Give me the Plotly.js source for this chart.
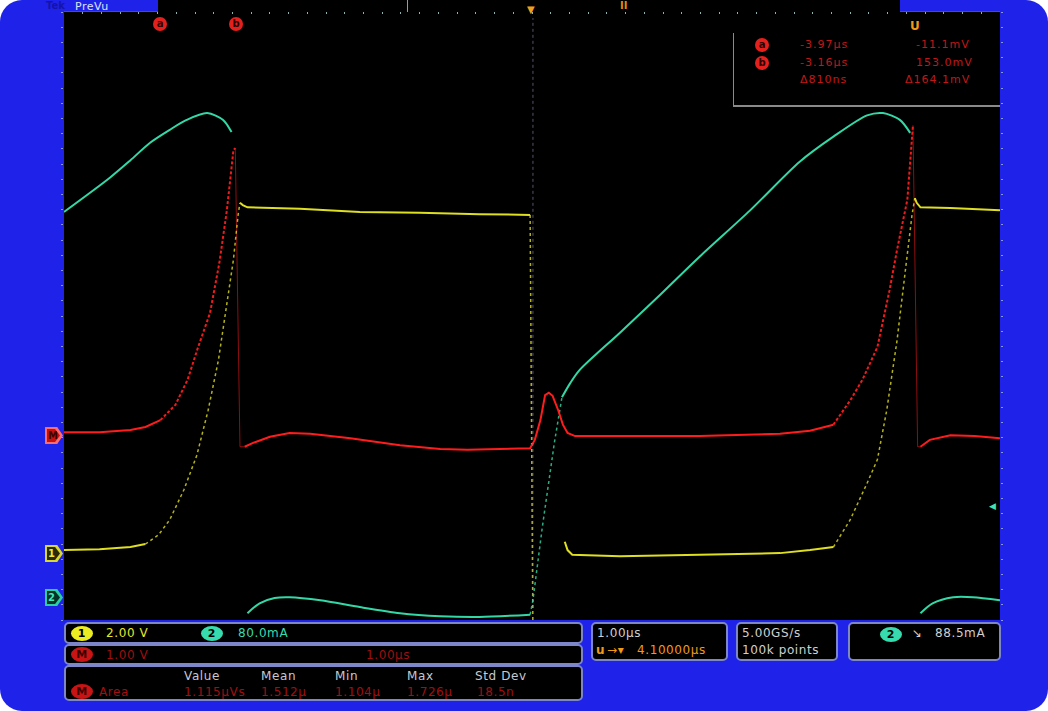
<!DOCTYPE html>
<html>
<head>
<meta charset="utf-8">
<script src="https://cdn.plot.ly/plotly-3.0.1.min.js"></script>
<style>
  html,body{margin:0;padding:0;background:#ffffff;}
  #wrap{position:relative;width:1048px;height:711px;background:#1f22e8;border-radius:22px;overflow:hidden;font-family:"DejaVu Sans",sans-serif;}
  #plot{position:absolute;left:0;top:0;width:1048px;height:711px;}
  .ov{position:absolute;z-index:10;white-space:nowrap;line-height:1;}
  .panel{position:absolute;z-index:10;background:#000;border:2px solid #7d86c8;border-radius:5px;box-sizing:border-box;}
  .badge{display:inline-block;border-radius:50%;text-align:center;font-weight:bold;color:#000;}
  .t{position:absolute;white-space:nowrap;line-height:1;font-size:12px;letter-spacing:0.6px;}
  .gnd{position:absolute;z-index:10;width:18px;height:17px;clip-path:polygon(0 0,68% 0,100% 50%,68% 100%,0 100%);}
  .gnd div{position:absolute;left:2px;top:2px;width:13px;height:13px;clip-path:polygon(0 0,62% 0,100% 50%,62% 100%,0 100%);font-size:10px;font-weight:bold;line-height:13px;text-indent:1px;}
  .cur{position:absolute;z-index:10;width:14px;height:14px;border-radius:50%;background:#e3201c;color:#2a0000;font-size:10px;font-weight:bold;text-align:center;line-height:13px;}
</style>
</head>
<body>
<div id="wrap">
  <div id="plot"></div>

  <!-- top status bar -->
  <div class="ov" style="left:46px;top:1px;font-size:10px;font-weight:bold;color:#1414a8;">Tek</div>
  <div class="ov" style="left:75px;top:1px;font-size:11px;color:#dfe3ff;letter-spacing:0.5px;">PreVu</div>
  <div class="ov" style="left:158px;top:0px;width:742px;height:12px;background:#000;z-index:5;"></div>
  <div class="ov" style="left:407px;top:0px;width:1px;height:12px;background:#9a9a9a;"></div>
  <div class="ov" style="left:527px;top:5px;font-size:10px;color:#f0a020;">▼</div>
  <div class="ov" style="left:620px;top:1px;font-size:10px;font-weight:bold;color:#e08a10;">II</div>

  <!-- cursor markers -->
  <div class="cur" style="left:153px;top:17px;">a</div>
  <div class="cur" style="left:229px;top:17px;">b</div>

  <!-- cursor readout -->
  <div class="ov" style="left:910px;top:20px;font-size:12px;font-weight:bold;color:#f09a18;">U</div>
  <div class="ov" style="left:733px;top:33px;width:1px;height:72px;background:#8a8a8a;"></div>
  <div class="ov" style="left:733px;top:105px;width:267px;height:2px;background:#8a8a8a;"></div>
  <div class="cur" style="left:755px;top:38px;">a</div>
  <div class="cur" style="left:755px;top:56px;">b</div>
  <div class="ov" style="left:800px;top:39px;font-size:11px;color:#c01818;letter-spacing:1px;">-3.97µs</div>
  <div class="ov" style="left:916px;top:39px;font-size:11px;color:#c01818;letter-spacing:1px;">-11.1mV</div>
  <div class="ov" style="left:800px;top:57px;font-size:11px;color:#c01818;letter-spacing:1px;">-3.16µs</div>
  <div class="ov" style="left:916px;top:57px;font-size:11px;color:#c01818;letter-spacing:1px;">153.0mV</div>
  <div class="ov" style="left:800px;top:74px;font-size:11px;color:#c01818;letter-spacing:1px;">Δ810ns</div>
  <div class="ov" style="left:905px;top:74px;font-size:11px;color:#c01818;letter-spacing:1px;">Δ164.1mV</div>

  <!-- ground markers -->
  <div class="gnd" style="left:45px;top:427px;background:#ff6a6a;"><div style="background:#c81010;color:#3a0000;">M</div></div>
  <div class="gnd" style="left:45px;top:545px;background:#d8d830;"><div style="background:#2a2a08;color:#e8e840;">1</div></div>
  <div class="gnd" style="left:45px;top:589px;background:#2ad0a0;"><div style="background:#06302a;color:#40e8b8;">2</div></div>
  <div class="ov" style="left:989px;top:502px;font-size:9px;color:#40e4b4;">◀</div>

  <!-- bottom panels -->
  <div class="panel" style="left:64px;top:622px;width:519px;height:22px;">
    <span class="badge t" style="left:5px;top:2px;width:22px;height:15px;line-height:15px;background:#ecec22;font-size:11px;">1</span>
    <span class="t" style="left:40px;top:3px;color:#e6e628;">2.00 V</span>
    <span class="badge t" style="left:135px;top:2px;width:22px;height:15px;line-height:15px;background:#36dcae;font-size:11px;">2</span>
    <span class="t" style="left:172px;top:3px;color:#36dcae;">80.0mA</span>
  </div>
  <div class="panel" style="left:64px;top:644px;width:519px;height:21px;">
    <span class="badge t" style="left:5px;top:1px;width:22px;height:15px;line-height:15px;background:#c81414;color:#3a0000;font-size:11px;">M</span>
    <span class="t" style="left:40px;top:3px;color:#9c1010;">1.00 V</span>
    <span class="t" style="left:300px;top:3px;color:#9c1010;">1.00µs</span>
  </div>
  <div class="panel" style="left:64px;top:665px;width:519px;height:36px;">
    <span class="t" style="left:118px;top:3px;color:#c8c8d0;">Value</span>
    <span class="t" style="left:195px;top:3px;color:#c8c8d0;">Mean</span>
    <span class="t" style="left:269px;top:3px;color:#c8c8d0;">Min</span>
    <span class="t" style="left:341px;top:3px;color:#c8c8d0;">Max</span>
    <span class="t" style="left:409px;top:3px;color:#c8c8d0;">Std Dev</span>
    <span class="badge t" style="left:5px;top:17px;width:22px;height:15px;line-height:15px;background:#c81414;color:#3a0000;font-size:11px;">M</span>
    <span class="t" style="left:33px;top:19px;color:#a01010;">Area</span>
    <span class="t" style="left:118px;top:19px;color:#a01010;">1.115µVs</span>
    <span class="t" style="left:195px;top:19px;color:#a01010;">1.512µ</span>
    <span class="t" style="left:269px;top:19px;color:#a01010;">1.104µ</span>
    <span class="t" style="left:341px;top:19px;color:#a01010;">1.726µ</span>
    <span class="t" style="left:411px;top:19px;color:#a01010;">18.5n</span>
  </div>
  <div class="panel" style="left:591px;top:622px;width:137px;height:39px;">
    <span class="t" style="left:4px;top:3px;color:#d0d0d0;">1.00µs</span>
    <span class="t" style="left:3px;top:20px;color:#f09a18;font-weight:bold;">u</span>
    <span class="t" style="left:14px;top:20px;color:#f09a18;">→▾</span>
    <span class="t" style="left:44px;top:20px;color:#f09a18;">4.10000µs</span>
  </div>
  <div class="panel" style="left:736px;top:622px;width:102px;height:39px;">
    <span class="t" style="left:4px;top:3px;color:#d0d0d0;">5.00GS/s</span>
    <span class="t" style="left:4px;top:20px;color:#d0d0d0;">100k points</span>
  </div>
  <div class="panel" style="left:848px;top:622px;width:153px;height:39px;">
    <span class="badge t" style="left:30px;top:3px;width:22px;height:15px;line-height:15px;background:#36dcae;font-size:11px;">2</span>
    <span class="t" style="left:62px;top:3px;color:#d0d0d0;">↘</span>
    <span class="t" style="left:85px;top:3px;color:#d0d0d0;">88.5mA</span>
  </div>
</div>

<script>
// Time in µs (1.00 µs/div), values in screen divisions
const ch1Time = [-5.00,-4.62,-4.29,-4.13,null,-3.12,-3.09,-3.04,-2.48,-1.84,-1.20,-0.56,-0.02,null,0.35,0.38,0.43,0.94,1.79,2.65,2.97,3.22,null,4.09,4.11,4.15,4.47,5.00];
const ch1Val  = [-3.08,-3.07,-3.04,-3.00,null,1.49,1.46,1.43,1.41,1.37,1.36,1.34,1.33,null,-2.97,-3.08,-3.14,-3.16,-3.14,-3.12,-3.08,-3.04,null,1.55,1.49,1.43,1.42,1.39];
const ch1EdgeTime = [-4.13,-3.99,-3.87,-3.72,-3.58,-3.46,-3.35,-3.27,-3.19,-3.14,-3.12,null,-0.02,0.01,null,3.22,3.40,3.58,3.69,3.79,3.90,3.99,4.06,4.09];
const ch1EdgeVal  = [-3.00,-2.88,-2.68,-2.29,-1.83,-1.24,-0.58,0.08,0.74,1.33,1.49,null,1.33,-4.2,null,-3.04,-2.68,-2.20,-1.89,-1.24,-0.32,0.61,1.33,1.55];

const ch2Time = [-5.00,-4.51,-4.29,-4.08,-3.87,-3.69,-3.47,-3.30,-3.21,null,-3.04,-2.91,-2.75,-2.59,-2.26,-1.84,-1.41,-0.98,-0.56,-0.02,null,0.32,0.41,0.51,0.94,1.37,1.79,2.33,2.86,3.22,3.58,3.75,3.93,4.04,null,4.15,4.28,4.50,4.71,5.00];
const ch2Val  = [1.37,1.82,2.05,2.28,2.45,2.58,2.67,2.58,2.42,null,-3.91,-3.78,-3.71,-3.70,-3.74,-3.83,-3.91,-3.95,-3.96,-3.93,null,-1.07,-0.88,-0.71,-0.22,0.28,0.78,1.39,2.03,2.36,2.64,2.67,2.58,2.41,null,-3.91,-3.78,-3.70,-3.70,-3.74];
const ch2EdgeTime = [-0.02,0.01,0.11,0.17,0.24,0.32];
const ch2EdgeVal  = [-3.93,-3.74,-2.78,-2.25,-1.66,-1.07];

const mathTime = [-5.00,-4.62,-4.29,-4.13,-3.97,null,-3.07,-2.98,-2.80,-2.59,-2.37,-1.94,-1.41,-0.98,-0.69,-0.34,-0.02,0.03,0.09,0.14,0.18,0.22,0.28,0.33,0.38,0.46,0.94,1.79,2.65,2.97,3.22,null,4.15,4.25,4.47,4.73,5.00];
const mathVal  = [-1.53,-1.53,-1.50,-1.46,-1.37,null,-1.72,-1.67,-1.59,-1.54,-1.55,-1.61,-1.70,-1.75,-1.76,-1.75,-1.74,-1.63,-1.37,-1.04,-1.01,-1.05,-1.24,-1.43,-1.54,-1.58,-1.58,-1.58,-1.55,-1.51,-1.43,null,-1.72,-1.63,-1.57,-1.58,-1.61];
const mathEdgeTime = [-3.97,-3.81,-3.68,-3.57,-3.44,-3.34,-3.26,-3.19,-3.17,null,-3.17,-3.12,-3.07,null,3.22,3.40,3.53,3.69,3.82,3.90,4.01,4.06,4.07,null,4.07,4.12,4.15];
const mathEdgeVal  = [-1.37,-1.17,-0.84,-0.42,0.04,0.70,1.39,2.18,2.21,null,2.21,-1.72,-1.72,null,-1.43,-1.11,-0.84,-0.41,0.34,0.87,1.53,2.45,2.51,null,2.51,-1.72,-1.72];

const YELLOW = '#dede22', CYAN = '#34d8a6', RED = '#ff1c1c';

// split math edges into rising (bright dotted) and falling (faint) parts by the null separators
function segs(t, v) {
  const out = []; let cur = {x:[], y:[]};
  t.forEach((ti, i) => {
    if (ti === null) { out.push(cur); cur = {x:[], y:[]}; }
    else { cur.x.push(ti); cur.y.push(v[i]); }
  });
  out.push(cur); return out;
}
const mSegs = segs(mathEdgeTime, mathEdgeVal);

const traces = [
  {x: mSegs[0].x, y: mSegs[0].y, mode:'lines', line:{color:RED, width:2, dash:'3px,2px'}, opacity:0.95},
  {x: mSegs[2].x, y: mSegs[2].y, mode:'lines', line:{color:RED, width:2, dash:'3px,2px'}, opacity:0.95},
  {x: mSegs[1].x, y: mSegs[1].y, mode:'lines', line:{color:RED, width:1}, opacity:0.55},
  {x: mSegs[3].x, y: mSegs[3].y, mode:'lines', line:{color:RED, width:1}, opacity:0.55},
  {x: ch1EdgeTime, y: ch1EdgeVal, mode:'lines', line:{color:YELLOW, width:1.5, dash:'dot'}, opacity:0.8, connectgaps:false},
  {x: ch2EdgeTime, y: ch2EdgeVal, mode:'lines', line:{color:CYAN, width:1.5, dash:'dot'}, opacity:0.8, connectgaps:false},
  {x: ch1Time, y: ch1Val, mode:'lines', line:{color:YELLOW, width:2}, connectgaps:false},
  {x: ch2Time, y: ch2Val, mode:'lines', line:{color:CYAN, width:2, shape:'spline', smoothing:0.8}, connectgaps:false},
  {x: mathTime, y: mathVal, mode:'lines', line:{color:RED, width:2}, connectgaps:false}
];

const layout = {
  width:1048, height:711,
  margin:{l:64, r:48, t:12, b:91, pad:0},
  paper_bgcolor:'rgba(0,0,0,0)',
  plot_bgcolor:'#000000',
  showlegend:false,
  hovermode:false,
  xaxis:{range:[-5,5], showgrid:false, zeroline:false, showticklabels:false,
         side:'top', ticks:'inside', ticklen:2, tickwidth:1, tickcolor:'#8fb0b4',
         tick0:-5, dtick:0.2, showline:true, linecolor:'#3d6068', linewidth:1, fixedrange:true},
  yaxis:{range:[-4,4], showgrid:false, zeroline:false, showticklabels:false,
         ticks:'outside', ticklen:2, tickwidth:1, tickcolor:'#8e98e0', mirror:'ticks',
         tick0:-4, dtick:0.2, showline:false, fixedrange:true},
  shapes:[
    {type:'line', xref:'x', yref:'paper', x0:0.01, x1:0.01, y0:0.02, y1:0.99,
     line:{color:'rgba(160,150,190,0.55)', width:1, dash:'dot'}}
  ]
};

Plotly.newPlot('plot', traces, layout, {displayModeBar:false, staticPlot:true});
</script>
</body>
</html>
